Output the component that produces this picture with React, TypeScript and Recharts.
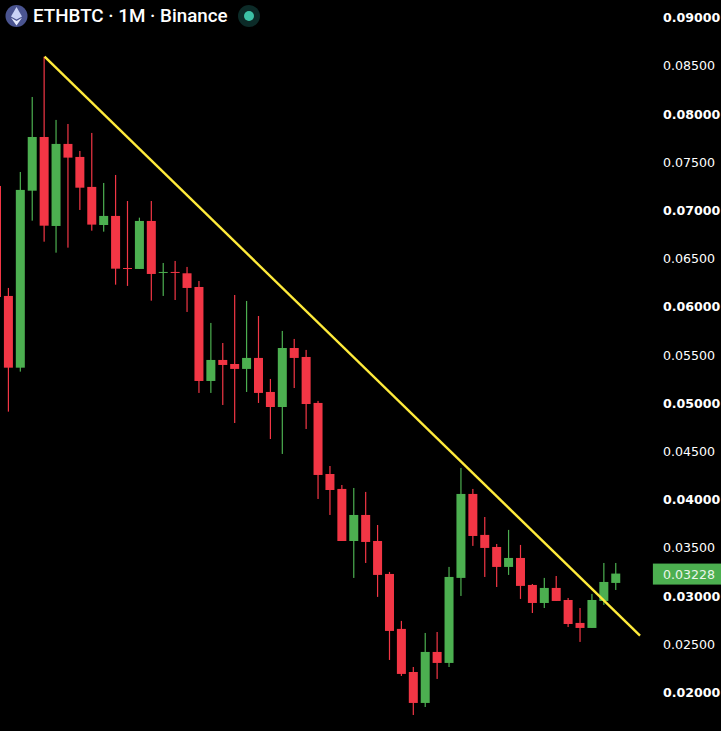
import React from "react";
import { ComposedChart, Bar, Line, XAxis, YAxis } from "recharts";

const RED = "#F23645";
const GREEN = "#4CAF50";
const AXIS_FONT = "'DejaVu Sans', sans-serif";

// monthly candles, the first one is cut off by the left edge of the picture
const opens = [
  0.07249, 0.06108, 0.05364, 0.072, 0.07757, 0.06834, 0.07685, 0.0755, 0.07239, 0.06844, 0.06938, 0.06398, 0.06388,
  0.06886, 0.06351, 0.06357, 0.06343, 0.06201, 0.05226, 0.05444, 0.05402, 0.05351, 0.05465, 0.05112, 0.04956, 0.05568,
  0.05475, 0.04998, 0.04261, 0.04106, 0.03566, 0.03836, 0.03566, 0.03224, 0.02654, 0.02207, 0.01886, 0.02415, 0.02301,
  0.03183, 0.04054, 0.03629, 0.03504, 0.03297, 0.0339, 0.0311, 0.02923, 0.03079, 0.02954, 0.02716, 0.02664, 0.02944,
  0.03131,
];
const closes = [
  0.06097, 0.05364, 0.07208, 0.07757, 0.06837, 0.07685, 0.07543, 0.07231, 0.06848, 0.06938, 0.06391, 0.06392, 0.06886,
  0.06336, 0.06357, 0.06351, 0.06191, 0.05226, 0.05444, 0.05392, 0.05351, 0.05465, 0.05102, 0.04956, 0.05568, 0.05465,
  0.04987, 0.04251, 0.04095, 0.03566, 0.03836, 0.03556, 0.03214, 0.02633, 0.02187, 0.01886, 0.02415, 0.02301, 0.03193,
  0.04054, 0.03618, 0.03494, 0.03297, 0.0339, 0.031, 0.02923, 0.03079, 0.02944, 0.02705, 0.02664, 0.02954, 0.03141,
  0.03228,
];
const highs = [
  0.07249, 0.06191, 0.07394, 0.08172, 0.0859, 0.07934, 0.07892, 0.07612, 0.07799, 0.0728, 0.07363, 0.07093, 0.0692,
  0.07093, 0.0645, 0.06471, 0.06409, 0.06263, 0.05828, 0.0562, 0.06118, 0.06056, 0.059, 0.05247, 0.05745, 0.05662,
  0.05548, 0.05019, 0.04344, 0.04147, 0.04116, 0.04075, 0.03732, 0.03245, 0.02737, 0.02259, 0.02612, 0.02622, 0.03297,
  0.04324, 0.04106, 0.03815, 0.03535, 0.03681, 0.03525, 0.0312, 0.03183, 0.03203, 0.02975, 0.02871, 0.03017, 0.03338,
  0.03338,
];
const lows = [
  0.06097, 0.04908, 0.05323, 0.06889, 0.06671, 0.06557, 0.06609, 0.07, 0.06785, 0.06775, 0.06225, 0.06212, 0.06388,
  0.06059, 0.06108, 0.06066, 0.05942, 0.05102, 0.05102, 0.04977, 0.0479, 0.05112, 0.04998, 0.04624, 0.04469, 0.05153,
  0.04728, 0.04002, 0.03836, 0.03566, 0.03183, 0.03338, 0.02986, 0.02332, 0.02166, 0.01761, 0.01844, 0.02135, 0.02259,
  0.02996, 0.03515, 0.03193, 0.03089, 0.03214, 0.02965, 0.02819, 0.02871, 0.02944, 0.02674, 0.02519, 0.02664, 0.02903,
  0.03058,
];

// empty slots to the right of the last candle, the trend line ends in one of them
const EMPTY_SLOTS = 3;
const TREND_START_SLOT = 4;
const TREND_END_SLOT = 54;
const trendValues = [0.0859, 0.02584];

const priceTicks = [
  0.02, 0.025, 0.03, 0.035, 0.04, 0.045, 0.05, 0.055, 0.06, 0.065, 0.07, 0.075, 0.08, 0.085, 0.09,
];
const boldTicks = [0.02, 0.03, 0.04, 0.05, 0.06, 0.07, 0.08, 0.09];
const lastPrice = 0.03228;

const rows: any[] = [];
for (let i = 0; i < opens.length + EMPTY_SLOTS; i++) {
  rows.push({
    slot: i,
    open: opens[i],
    close: closes[i],
    high: highs[i],
    low: lows[i],
    trend: i === TREND_START_SLOT ? trendValues[0] : i === TREND_END_SLOT ? trendValues[1] : null,
  });
}

const Candle = (props: any) => {
  const { x, y, width, height, payload } = props;
  if (payload.open === undefined) return null;
  const top = Math.min(y, y + height);
  const perUnit = Math.abs(height) / (payload.high - payload.low);
  const color = payload.close >= payload.open ? GREEN : RED;
  const bodyTop = top + (payload.high - Math.max(payload.open, payload.close)) * perUnit;
  const bodyHeight = Math.abs(payload.open - payload.close) * perUnit;
  return (
    <g>
      <rect x={x + width / 2 - 0.6} y={top} width={1.2} height={Math.abs(height)} fill={color} />
      <rect x={x} y={bodyTop} width={width} height={Math.max(bodyHeight, 1)} fill={color} />
    </g>
  );
};

const PriceTick = ({ x, y, payload }: any) => {
  if (payload.value === lastPrice) {
    return (
      <g>
        <rect x={x - 13} y={y - 10} width={80} height={21} fill={GREEN} />
        <text x={x - 3} y={y + 5} fill="#EAF6EA" fontSize={12.6} fontFamily={AXIS_FONT}>
          {lastPrice.toFixed(5)}
        </text>
      </g>
    );
  }
  return (
    <text
      x={x - 3}
      y={y + 5}
      fill="#fff"
      fontSize={12.6}
      fontWeight={boldTicks.includes(payload.value) ? 700 : 400}
      fontFamily={AXIS_FONT}
    >
      {payload.value.toFixed(5)}
    </text>
  );
};

const App = () => {
  return (
    <div style={{ position: "fixed", left: 0, top: 0, width: 721, height: 731, background: "#000", overflow: "hidden" }}>
      <div style={{ position: "absolute", left: -8.9, top: 0 }}>
        <ComposedChart width={729.9} height={731} data={rows} barSize={9} margin={{ top: 0, right: 0, bottom: 0, left: 0 }}>
          <XAxis dataKey="slot" hide />
          <YAxis
            orientation="right"
            width={63}
            domain={[0.01595, 0.09178]}
            ticks={[...priceTicks, lastPrice]}
            interval={0}
            axisLine={false}
            tickLine={false}
            tick={PriceTick}
          />
          <Bar dataKey={(d: any) => (d.open === undefined ? null : [d.low, d.high])} shape={Candle} isAnimationActive={false} />
          <Line dataKey="trend" connectNulls dot={false} stroke="#FFEB3B" strokeWidth={2.4} type="linear" isAnimationActive={false} />
        </ComposedChart>
      </div>
      <svg width={24} height={24} style={{ position: "absolute", left: 5, top: 5 }}>
        <circle cx={11.5} cy={11} r={11} fill="#4A5490" />
        <polygon points="11.5,2 17,11.5 11.5,14.5 6,11.5" fill="#C9D2F5" />
        <polygon points="11.5,16 17,12.8 11.5,20.5 6,12.8" fill="#E4E9FB" />
      </svg>
      <div style={{ position: "absolute", left: 33, top: 5, color: "#fff", font: "500 18.8px Roboto, sans-serif", whiteSpace: "nowrap" }}>
        ETHBTC · 1M · Binance
      </div>
      <svg width={24} height={24} style={{ position: "absolute", left: 237, top: 4 }}>
        <circle cx={12} cy={12} r={11} fill="#0C2B28" />
        <circle cx={12} cy={12} r={5} fill="#3CC2A6" />
      </svg>
    </div>
  );
};

export default App;
